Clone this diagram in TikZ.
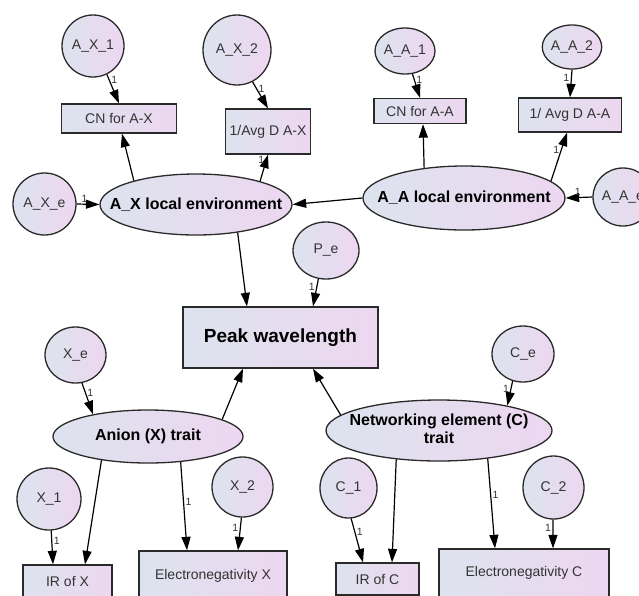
\documentclass[tikz,border=0pt]{standalone}
\usepackage{fontspec}
\setmainfont{Liberation Sans}
\usetikzlibrary{shapes.geometric,arrows.meta}
\definecolor{fillL}{HTML}{DDE3EE}
\definecolor{fillR}{HTML}{EDD7F0}
\definecolor{edgeC}{HTML}{2A2A2A}
\definecolor{txtC}{HTML}{333333}
\begin{document}
\begin{tikzpicture}[x=1pt,y=-1pt,
  gfill/.style={left color=fillL, right color=fillR, draw=edgeC, line width=1.3pt},
  errc/.style={gfill, ellipse, inner sep=0pt, font=\fontsize{14}{16}\selectfont, text=txtC},
  obs/.style={gfill, rectangle, inner sep=0pt, font=\fontsize{14}{16}\selectfont, text=txtC},
  lat/.style={gfill, ellipse, inner sep=0pt, font=\bfseries\fontsize{16}{18}\selectfont},
  arr/.style={-{Triangle[length=13.5pt,width=9pt]}, line width=1.2pt, draw=black},
  lbl/.style={font=\fontsize{10.5}{11}\selectfont, inner sep=1.5pt, text=txtC}
]
\clip (0,0) rectangle (639,595);
% top left group
\node[errc, minimum width=62pt, minimum height=62pt] (AX1) at (93,46) {A\_X\_1};
\node[errc, minimum width=68pt, minimum height=70pt] (AX2) at (237,50) {A\_X\_2};
\node[obs, minimum width=115pt, minimum height=29pt] (CNAX) at (119,118.5) {CN for A-X};
\node[obs, minimum width=85pt, minimum height=45pt] (AvgAX) at (268,131.5) {1/Avg D A-X};
% top right group
\node[errc, minimum width=60pt, minimum height=46pt] (AA1) at (405,51) {A\_A\_1};
\node[errc, minimum width=58pt, minimum height=44pt] (AA2) at (572,47) {A\_A\_2};
\node[obs, minimum width=92pt, minimum height=25pt] (CNAA) at (420,111) {CN for A-A};
\node[obs, minimum width=103pt, minimum height=34pt] (AvgAA) at (570,115) {1/ Avg D A-A};
% environments
\node[errc, minimum width=63pt, minimum height=62pt] (AXe) at (44.5,204) {A\_X\_e};
\node[lat, minimum width=192pt, minimum height=61pt] (AXenv) at (196,204.5) {\makebox[0pt]{A\_X local environment}};
\node[lat, minimum width=202pt, minimum height=64pt] (AAenv) at (464,198) {\makebox[0pt]{A\_A local environment}};
\node[errc, minimum width=60pt, minimum height=58pt] (AAe) at (623,197) {A\_A\_e};
% peak
\node[errc, minimum width=66pt, minimum height=57pt] (Pe) at (326,250.5) {P\_e};
\node[obs, minimum width=195pt, minimum height=61pt, text=black, font=\bfseries\fontsize{19}{22}\selectfont] (Peak) at (280.5,337.5) {Peak wavelength};
% anion
\node[errc, minimum width=61pt, minimum height=56pt] (Xe) at (75.5,355) {X\_e};
\node[lat, minimum width=190pt, minimum height=53pt] (Anion) at (148,436.5) {\makebox[0pt]{Anion (X) trait}};
\node[errc, minimum width=64pt, minimum height=62pt] (X1) at (49,499) {X\_1};
\node[errc, minimum width=61pt, minimum height=60pt] (X2) at (242.5,487) {X\_2};
\node[obs, minimum width=89pt, minimum height=32pt] (IRX) at (67.5,581) {IR of X};
\node[obs, minimum width=148pt, minimum height=50pt] (ElecX) at (213,576) {Electronegativity X};
% networking
\node[errc, minimum width=62pt, minimum height=56pt] (Ce) at (523,354) {C\_e};
\node[lat, minimum width=226pt, minimum height=61pt] (Net) at (439,430.5) {\makebox[0pt]{\begin{tabular}{@{}c@{}}Networking element (C)\\trait\end{tabular}}};
\node[errc, minimum width=57pt, minimum height=60pt] (C1) at (348.5,488) {C\_1};
\node[errc, minimum width=61pt, minimum height=63pt] (C2) at (553.5,487.5) {C\_2};
\node[obs, minimum width=83pt, minimum height=32pt] (IRC) at (377.5,579) {IR of C};
\node[obs, minimum width=170pt, minimum height=48pt] (ElecC) at (524,573) {Electronegativity C};
% connectors top
\draw[arr] (AX1.-64) -- node[lbl, pos=0.2, right] {1} (CNAX.north);
\draw[arr] (AX2.-64) -- node[lbl, pos=0.25, right] {1} (AvgAX.north);
\draw[arr] (AXenv.159) -- ([xshift=3pt]CNAX.south);
\draw[arr] (AXenv.20) -- node[lbl, pos=0.8, left] {1} (AvgAX.south);
\draw[arr] (AAenv.west) -- (AXenv.east);
\draw[arr] (AAenv.143) -- ([xshift=3pt]CNAA.south);
\draw[arr] (AAenv.11) -- node[lbl, pos=0.65, left] {1} ([xshift=-3pt]AvgAA.south);
\draw[arr] (AA1.-72) -- node[lbl, pos=0.25, right] {1} (CNAA.north);
\draw[arr] (AA2.south) -- node[lbl, pos=0.3, left] {1} (AvgAA.north);
\draw[arr] (AXe.east) -- node[lbl, pos=0.35, above] {1} (AXenv.west);
\draw[arr] (AAe.west) -- node[lbl, pos=0.55, above] {1} (AAenv.east);
% connectors to peak
\draw[arr] (AXenv.-34) -- ([xshift=-33.5pt]Peak.north);
\draw[arr] (Pe.-105) -- node[lbl, pos=0.3, left] {1} ([xshift=32.5pt]Peak.north);
\draw[arr] (Anion.13) -- ([xshift=-37.5pt]Peak.south);
\draw[arr] (Net.171) -- ([xshift=32.5pt]Peak.south);
% anion connectors
\draw[arr] (Xe.-77) -- node[lbl, pos=0.3, right] {1} (Anion.158);
\draw[arr] (Anion.-153) -- ([xshift=17.5pt]IRX.north);
\draw[arr] (X1.-86) -- node[lbl, pos=0.3, right] {1} ([xshift=-14.5pt]IRX.north);
\draw[arr] (Anion.-38) -- node[lbl, pos=0.45, right] {1} ([xshift=-26pt]ElecX.north);
\draw[arr] (X2.-92) -- node[lbl, pos=0.3, left] {1} ([xshift=25pt]ElecX.north);
% networking connectors
\draw[arr] (Ce.-111) -- node[lbl, pos=0.3, left] {1} (Net.20);
\draw[arr] (Net.-146) -- ([xshift=14.5pt]IRC.north);
\draw[arr] (C1.-85) -- node[lbl, pos=0.3, right] {1} ([xshift=-14.5pt]IRC.north);
\draw[arr] (Net.-30) -- node[lbl, pos=0.4, right] {1} ([xshift=-29pt]ElecC.north);
\draw[arr] (C2.-91) -- node[lbl, pos=0.3, left] {1} ([xshift=29pt]ElecC.north);
\end{tikzpicture}
\end{document}
